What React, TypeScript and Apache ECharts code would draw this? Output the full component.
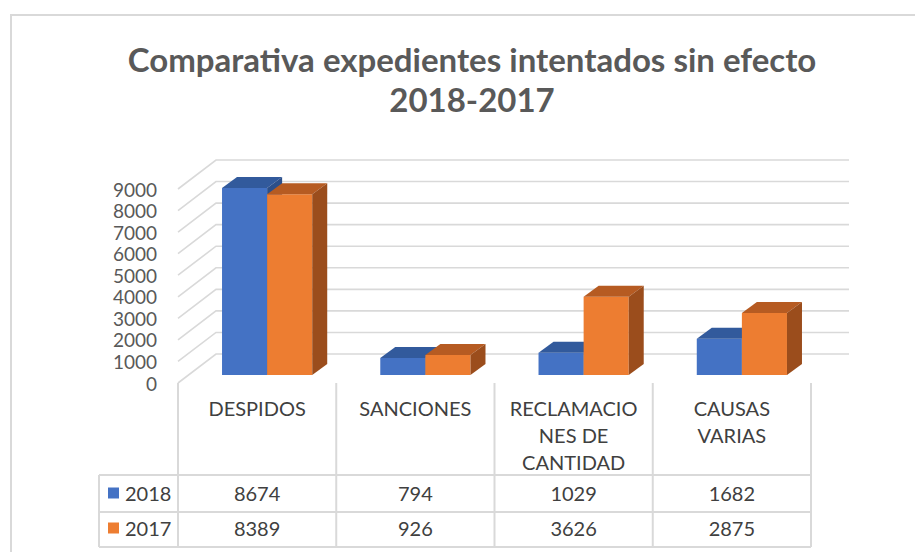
import React, { useEffect, useRef } from "react";
import * as echarts from "echarts";

const categories = ["DESPIDOS", "SANCIONES", "RECLAMACIO\nNES DE\nCANTIDAD", "CAUSAS\nVARIAS"];
const seriesNames = ["2018", "2017"];
const values2018 = [8674, 794, 1029, 1682];
const values2017 = [8389, 926, 3626, 2875];
const yTicks = [0, 1000, 2000, 3000, 4000, 5000, 6000, 7000, 8000, 9000];

const FONT = "Lato, 'Open Sans', sans-serif";
const GRID_LEFT = 178;
const GRID_WIDTH = 633;
const GRID_TOP = 189;
const GRID_HEIGHT = 194;
const BACK_DX = 38;
const BACK_DY = -29;
const BAR_DX = 10;
const BAR_DY = -8;
const DEPTH_DX = 15;
const DEPTH_DY = -11;

const colors = [
  { front: "#4472C4", top: "#325A9C", side: "#2C4F8A" },
  { front: "#ED7D31", top: "#B65B22", side: "#9B4D1C" },
];

function makeBarRender(si: number) {
  return (params: any, api: any) => {
    const cat = api.value(0);
    const v = api.value(1);
    const base = api.coord([cat, 0]);
    const top = api.coord([cat, v]);
    const bw = api.size([1, 0])[0];
    const w = bw * 0.285;
    const x0 = base[0] + BAR_DX + (si === 0 ? -w : 0);
    const yb = base[1] + BAR_DY;
    const yt = top[1] + BAR_DY;
    const c = colors[si];
    return {
      type: "group",
      children: [
        {
          type: "rect",
          shape: { x: x0, y: yt, width: w, height: yb - yt },
          style: { fill: c.front },
        },
        {
          type: "polygon",
          shape: {
            points: [
              [x0, yt],
              [x0 + w, yt],
              [x0 + w + DEPTH_DX, yt + DEPTH_DY],
              [x0 + DEPTH_DX, yt + DEPTH_DY],
            ],
          },
          style: { fill: c.top },
        },
        {
          type: "polygon",
          shape: {
            points: [
              [x0 + w, yt],
              [x0 + w + DEPTH_DX, yt + DEPTH_DY],
              [x0 + w + DEPTH_DX, yb + DEPTH_DY],
              [x0 + w, yb],
            ],
          },
          style: { fill: c.side },
        },
      ],
    };
  };
}

function wallRender(params: any, api: any) {
  const v = api.value(1);
  const p = api.coord([0, v]);
  const bw = api.size([1, 0])[0];
  const L = p[0] - bw / 2;
  const R = L + bw * categories.length;
  const y = p[1];
  return {
    type: "polyline",
    shape: {
      points: [
        [L, y],
        [L + BACK_DX, y + BACK_DY],
        [R + BACK_DX, y + BACK_DY],
      ],
    },
    style: { stroke: "#D9D9D9", lineWidth: 1.6, fill: null },
  };
}

function buildTable() {
  const els: any[] = [];
  const colW = GRID_WIDTH / categories.length;
  const headTop = 383;
  const row1 = 475;
  const row2 = 512;
  const bottom = 547;
  const legLeft = 99;
  const lineStyle = { stroke: "#D9D9D9", lineWidth: 2 };
  for (let i = 0; i <= categories.length; i++) {
    const x = GRID_LEFT + i * colW;
    els.push({ type: "line", shape: { x1: x, y1: headTop, x2: x, y2: bottom }, style: lineStyle });
  }
  els.push({ type: "line", shape: { x1: legLeft, y1: row1, x2: legLeft, y2: bottom }, style: lineStyle });
  [row1, row2, bottom].forEach((y) =>
    els.push({ type: "line", shape: { x1: legLeft, y1: y, x2: GRID_LEFT + GRID_WIDTH, y2: y }, style: lineStyle })
  );
  categories.forEach((c, i) => {
    els.push({
      type: "text",
      x: GRID_LEFT + (i + 0.5) * colW,
      y: 394,
      style: {
        text: c,
        fontFamily: FONT,
        fontSize: 20,
        lineHeight: 27,
        fill: "#404040",
        align: "center",
        verticalAlign: "top",
      },
    });
  });
  const rows = [values2018, values2017];
  const rowCenters = [493, 528];
  rows.forEach((vals, r) => {
    els.push({
      type: "rect",
      shape: { x: 108, y: rowCenters[r] - 5.5, width: 11, height: 11 },
      style: { fill: colors[r].front },
    });
    els.push({
      type: "text",
      x: 125,
      y: rowCenters[r],
      style: {
        text: seriesNames[r],
        fontFamily: FONT,
        fontSize: 20,
        fill: "#404040",
        align: "left",
        verticalAlign: "middle",
      },
    });
    vals.forEach((v, i) => {
      els.push({
        type: "text",
        x: GRID_LEFT + (i + 0.5) * colW,
        y: rowCenters[r],
        style: {
          text: String(v),
          fontFamily: FONT,
          fontSize: 20,
          fill: "#404040",
          align: "center",
          verticalAlign: "middle",
        },
      });
    });
  });
  return els;
}

export default function App() {
  const ref = useRef<HTMLDivElement>(null);
  useEffect(() => {
    if (!ref.current) return;
    const chart = echarts.init(ref.current, null, { renderer: "svg" });
    chart.setOption({
      animation: false,
      backgroundColor: "#ffffff",
      title: {
        text: "Comparativa expedientes intentados sin efecto\n2018-2017",
        left: 467,
        textAlign: "center",
        top: 34,
        textStyle: {
          fontFamily: FONT,
          fontWeight: "bold",
          fontSize: 33,
          lineHeight: 40,
          color: "#595959",
        },
      },
      grid: { left: GRID_LEFT, top: GRID_TOP, width: GRID_WIDTH, height: GRID_HEIGHT },
      xAxis: {
        type: "category",
        data: categories,
        axisLine: { show: false },
        axisTick: { show: false },
        axisLabel: { show: false },
        splitLine: { show: false },
      },
      yAxis: {
        type: "value",
        min: 0,
        max: 9000,
        interval: 1000,
        axisLine: { show: false },
        axisTick: { show: false },
        splitLine: { show: false },
        axisLabel: {
          fontFamily: FONT,
          fontSize: 19,
          lineHeight: 18,
          color: "#595959",
          margin: 21,
          formatter: (v: number) => String(v),
        },
      },
      graphic: [
        {
          type: "rect",
          shape: { x: 11, y: 15, width: 1000, height: 1000 },
          style: { fill: null, stroke: "#D9D9D9", lineWidth: 2 },
          silent: true,
        },
        ...buildTable(),
      ],
      series: [
        {
          type: "custom",
          name: "walls",
          renderItem: wallRender,
          data: yTicks.map((t) => [0, t]),
          z: 1,
          silent: true,
        },
        {
          type: "custom",
          name: seriesNames[0],
          renderItem: makeBarRender(0),
          data: values2018.map((v, i) => [i, v]),
          z: 2,
        },
        {
          type: "custom",
          name: seriesNames[1],
          renderItem: makeBarRender(1),
          data: values2017.map((v, i) => [i, v]),
          z: 3,
        },
      ],
    });
    return () => chart.dispose();
  }, []);
  return (
    <div
      ref={ref}
      style={{ position: "fixed", left: 0, top: 0, width: 915, height: 552, background: "#fff" }}
    />
  );
}
